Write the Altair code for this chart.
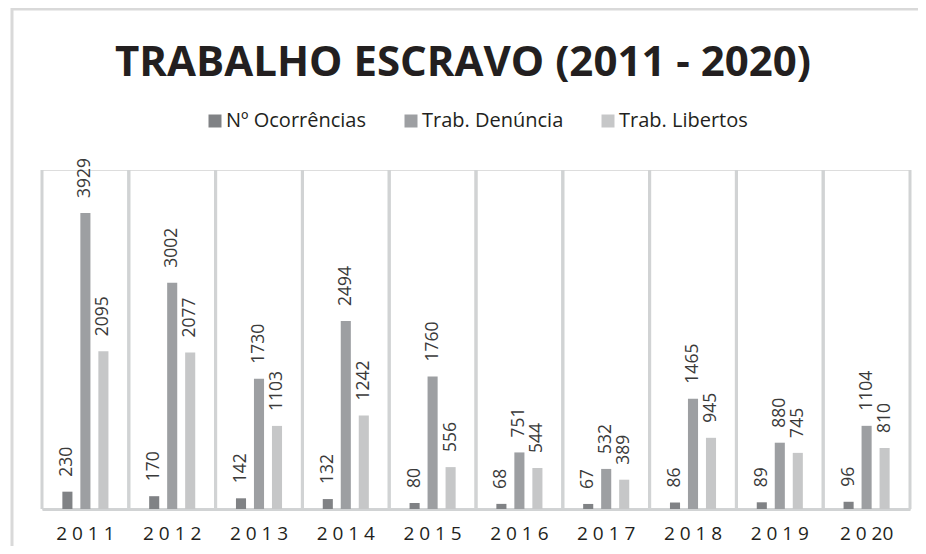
import altair as alt
import pandas as pd

titulo = "TRABALHO ESCRAVO (2011 - 2020)"
anos = ["2 0 1 1", "2 0 1 2", "2 0 1 3", "2 0 1 4", "2 0 1 5",
        "2 0 1 6", "2 0 1 7", "2 0 1 8", "2 0 1 9", "2 0 20"]
series = ["Nº Ocorrências", "Trab. Denúncia", "Trab. Libertos"]
ocorrencias = [230, 170, 142, 132, 80, 68, 67, 86, 89, 96]
denuncia = [3929, 3002, 1730, 2494, 1760, 751, 532, 1465, 880, 1104]
libertos = [2095, 2077, 1103, 1242, 556, 544, 389, 945, 745, 810]
cores = ["#808285", "#9d9fa2", "#c6c7c8"]

rows = []
for i, a in enumerate(anos):
    for s, vals in zip(series, [ocorrencias, denuncia, libertos]):
        rows.append({"ano": a, "serie": s, "valor": vals[i]})
df = pd.DataFrame(rows)
df_anos = pd.DataFrame({"ano": anos})

FONT = "Open Sans"
W, H = 868, 339

xaxis = alt.Axis(labelAngle=0, labelFont=FONT, labelFontSize=19,
                 labelColor="#231f20", labelPadding=15, ticks=False,
                 tickSize=0, domainColor="#d1d3d4", domainWidth=3,
                 grid=False, bandPosition=0.5)
xenc = alt.X("ano:N", sort=anos, title=None,
             scale=alt.Scale(paddingInner=0, paddingOuter=0), axis=xaxis)
xoff = alt.XOffset("serie:N", sort=series,
                   scale=alt.Scale(range=[16.4, 70.4], paddingInner=0.44, paddingOuter=0.22))
yenc = alt.Y("valor:Q", scale=alt.Scale(domain=[0, 4500]), axis=None)

base = alt.Chart(df)

sep0 = alt.Chart(df_anos).mark_rule(color="#d1d3d4", strokeWidth=3).encode(
    x=alt.X("ano:N", sort=anos, bandPosition=0, axis=xaxis, title=None))
sep1 = alt.Chart(df_anos).mark_rule(color="#d1d3d4", strokeWidth=3).encode(
    x=alt.X("ano:N", sort=anos, bandPosition=1, axis=xaxis, title=None))

bars = base.mark_bar().encode(
    x=xenc, xOffset=xoff, y=yenc,
    color=alt.Color("serie:N", sort=series,
                    scale=alt.Scale(domain=series, range=cores),
                    legend=alt.Legend(title=None, orient="none", direction="horizontal",
                                      legendX=163, legendY=-59,
                                      symbolType="square", symbolSize=169,
                                      symbolStrokeWidth=0, symbolOpacity=1,
                                      labelFont=FONT, labelFontSize=20,
                                      labelColor="#231f20", labelOffset=1,
                                      columnPadding=34, labelLimit=400)))

labels = base.mark_text(angle=270, align="left", baseline="middle", dx=15,
                        font=FONT, fontSize=17.5, color="#3a3a3a").encode(
    x=alt.X("ano:N", sort=anos, axis=xaxis, title=None), xOffset=xoff, y=yenc,
    text=alt.Text("valor:Q"))

title_df = pd.DataFrame({"t": [titulo]})
title_mark = alt.Chart(title_df).mark_text(
    font=FONT, fontSize=42, fontWeight="bold", color="#231f20",
    align="center", baseline="middle").encode(
    x=alt.value(421), y=alt.value(-107), text="t:N")

frame_df = pd.DataFrame({"k": [1]})
frame_top = alt.Chart(frame_df).mark_rule(color="#d9d9d9", strokeWidth=3).encode(
    x=alt.value(-31), x2=alt.value(920), y=alt.value(-161))
frame_left = alt.Chart(frame_df).mark_rule(color="#d9d9d9", strokeWidth=3).encode(
    x=alt.value(-30), y=alt.value(-162), y2=alt.value(420))

chart = alt.layer(frame_top, frame_left, sep0, sep1, bars, labels, title_mark).properties(
    width=W, height=H,
    autosize=alt.AutoSizeParams(type="none"),
    padding={"left": 34, "top": 162, "right": 8, "bottom": 37},
).configure_view(stroke=None).configure(background="white")

chart.save("out.html", embed_options={"renderer": "svg", "actions": False})
